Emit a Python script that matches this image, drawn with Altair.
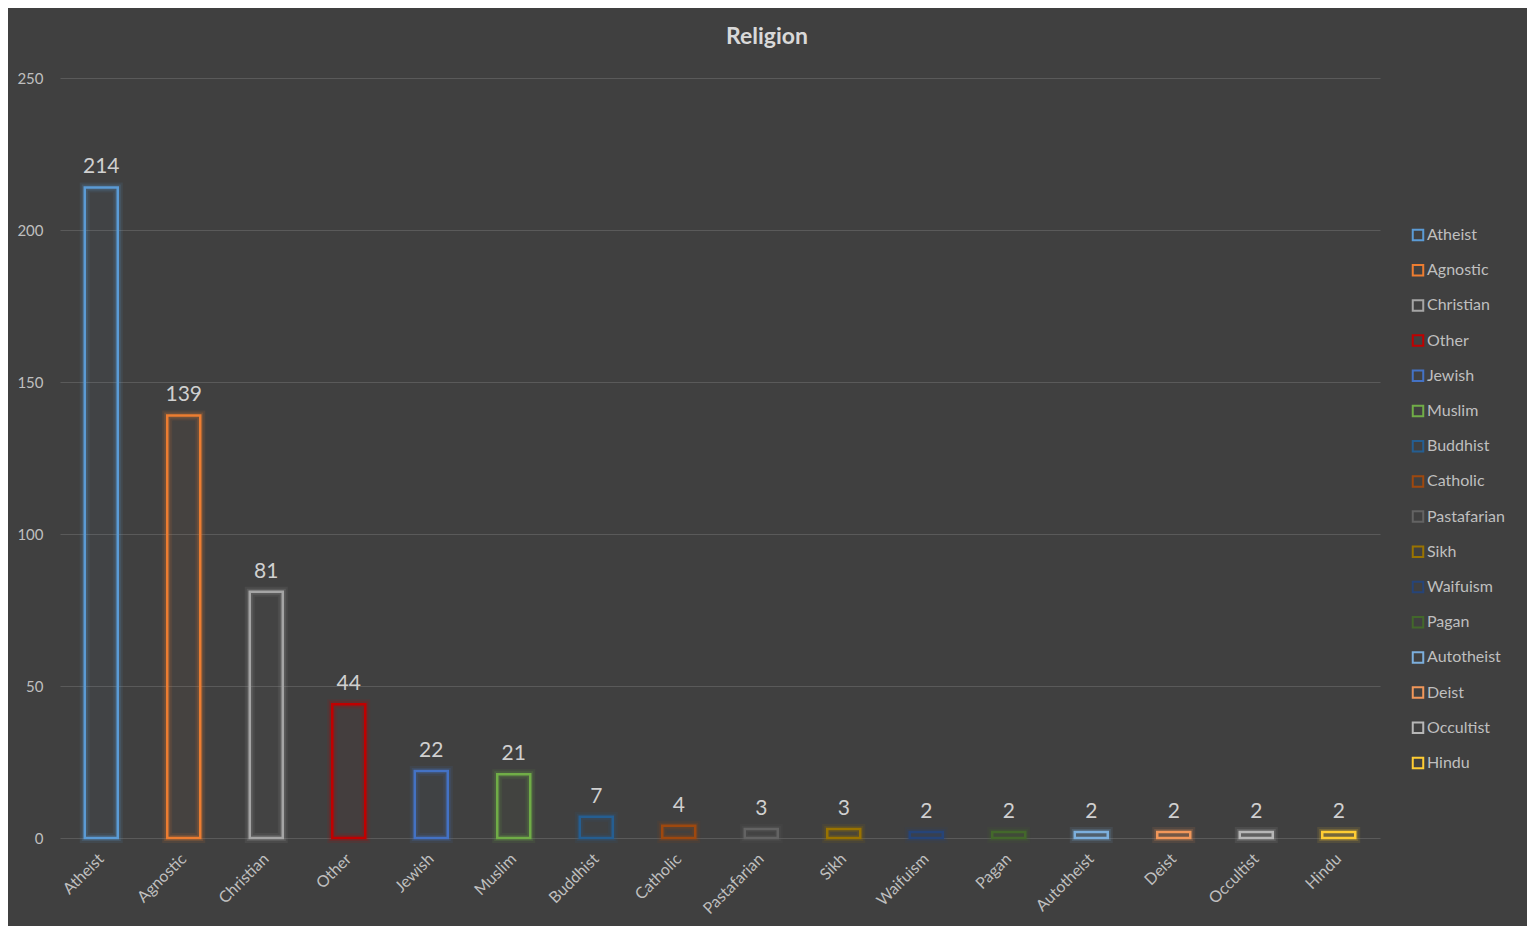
import altair as alt
import pandas as pd

categories = ["Atheist", "Agnostic", "Christian", "Other", "Jewish", "Muslim",
              "Buddhist", "Catholic", "Pastafarian", "Sikh", "Waifuism", "Pagan",
              "Autotheist", "Deist", "Occultist", "Hindu"]
values = [214, 139, 81, 44, 22, 21, 7, 4, 3, 3, 2, 2, 2, 2, 2, 2]
colors = ["#5B9BD5", "#ED7D31", "#A5A5A5", "#C00000", "#4472C4", "#70AD47",
          "#255E91", "#9E480E", "#636363", "#997300", "#264478", "#43682B",
          "#7CAFDD", "#F1975A", "#B7B7B7", "#FFCD33"]
y_ticks = [0, 50, 100, 150, 200, 250]

df = pd.DataFrame({"Religion": categories, "Count": values})

FONT = "Lato"

x_enc = alt.X("Religion:N", sort=categories,
              scale=alt.Scale(paddingInner=0, paddingOuter=0),
              axis=alt.Axis(title=None, labelAngle=-45, labelAlign="right",
                            labelBaseline="middle", labelPadding=18,
                            ticks=False, domain=False, grid=False,
                            labelColor="#bfbfbf", labelFontSize=16, labelFont=FONT))
y_enc = alt.Y("Count:Q", scale=alt.Scale(domain=[0, 250], nice=False),
              axis=alt.Axis(title=None, values=y_ticks, ticks=False, domain=False,
                            grid=True, gridColor="#5a5a5a", gridWidth=1.2,
                            labelPadding=17, labelColor="#bfbfbf",
                            labelFontSize=15, labelFont=FONT))
cscale = alt.Scale(domain=categories, range=colors)

base = alt.Chart(df)

glow_outer = base.mark_bar(size=33, strokeWidth=10, strokeOpacity=0.10,
                           fill="transparent").encode(
    x=x_enc, y=y_enc,
    stroke=alt.Stroke("Religion:N", scale=cscale, legend=None),
)

glow = base.mark_bar(size=33, strokeWidth=6, strokeOpacity=0.18,
                     fillOpacity=0.03).encode(
    x=x_enc, y=y_enc,
    stroke=alt.Stroke("Religion:N", scale=cscale, legend=None),
    fill=alt.Fill("Religion:N", scale=cscale, legend=None),
)

bars = base.mark_bar(size=33, strokeWidth=2.5, fill="transparent").encode(
    x=x_enc, y=y_enc,
    stroke=alt.Stroke("Religion:N", scale=cscale,
                      legend=alt.Legend(title=None, orient="none",
                                        legendX=1350, legendY=149,
                                        symbolType="square", symbolSize=110,
                                        symbolStrokeWidth=2,
                                        symbolFillColor="transparent",
                                        labelColor="#bfbfbf", labelFontSize=16,
                                        labelFont=FONT, labelOffset=1,
                                        rowPadding=15.2)),
)

labels = base.mark_text(baseline="alphabetic", dy=-14, fontSize=21,
                        font=FONT, color="#d0d0d0").encode(
    x=x_enc, y=y_enc, text=alt.Text("Count:Q"),
)

chart = alt.layer(glow_outer, glow, bars, labels).resolve_legend(
    stroke="independent", fill="independent"
).properties(
    width=1320, height=760,
    autosize=alt.AutoSizeParams(type="none"),
    padding={"left": 52, "top": 70, "right": 147, "bottom": 88},
    background="#404040",
    title=alt.TitleParams("Religion", fontSize=23, font=FONT, fontWeight="bold",
                          color="#d9d9d9", anchor="middle", dx=47, offset=22),
).configure_view(stroke=None)

chart.save("out.html", embed_options={"renderer": "svg", "actions": False})
